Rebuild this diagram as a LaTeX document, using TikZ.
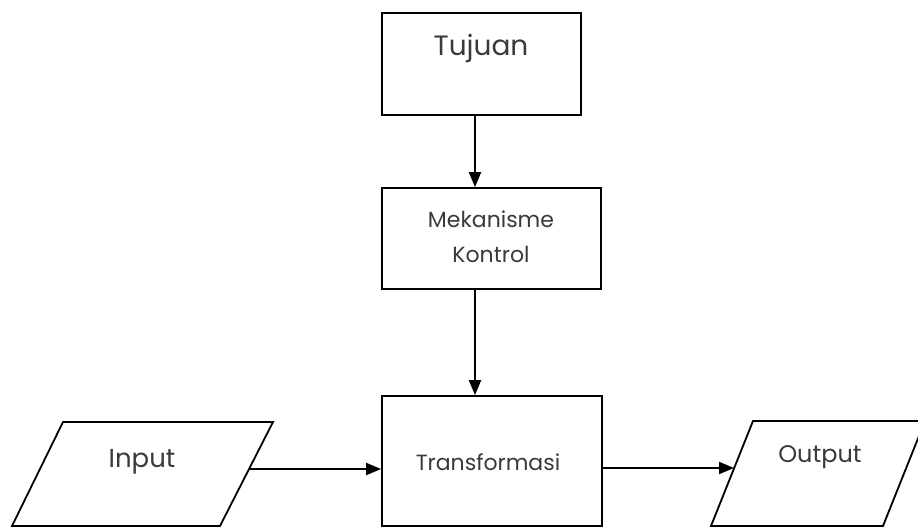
\documentclass[tikz,border=0pt]{standalone}
\usepackage{fontspec}
\setmainfont{Poppins}
\usetikzlibrary{arrows.meta}
\definecolor{txt}{HTML}{3A3A3A}
\tikzset{
  box/.style={draw=black, line width=1.8pt, rectangle, inner sep=0pt, font=\fontsize{22}{35}\selectfont, text=txt, align=center},
  lbl/.style={inner sep=0pt, text=txt, anchor=base},
  arr/.style={line width=2pt, -{Triangle[length=15pt,width=12pt]}},
  shp/.style={draw=black, line width=1.8pt, line join=miter}
}
\begin{document}
\begin{tikzpicture}[x=1pt,y=-1pt]
\useasboundingbox (0,0) rectangle (918,527);
\clip (0,0) rectangle (918,527);
\fill[white] (0,0) rectangle (918,527);
% boxes
\node[box, minimum width=199pt, minimum height=102pt] (tujuan) at (481.5,64) {};
\node[lbl, font=\fontsize{28}{30}\selectfont] (tujuanT) at (481,56) {Tujuan};
\node[box, minimum width=219pt, minimum height=101pt] (mek) at (491.5,238.5) {};
\node[lbl, font=\fontsize{22}{24}\selectfont] (mekA) at (491,227) {Mekanisme};
\node[lbl, font=\fontsize{22}{24}\selectfont] (mekB) at (491,262) {Kontrol};
\node[box, minimum width=220pt, minimum height=130pt] (trans) at (492,461) {};
\node[lbl, font=\fontsize{22}{24}\selectfont] (transT) at (488,470) {Transformasi};
% parallelograms
\coordinate (inBL) at (12,526);
\coordinate (inTL) at (63,422);
\coordinate (inTR) at (273,422);
\coordinate (inBR) at (220,526);
\draw[shp] (inBL) -- (inTL) -- (inTR) -- (inBR) -- cycle;
\node[lbl, font=\fontsize{26}{28}\selectfont] (inT) at (142,467) {Input};
\coordinate (outBL) at (711,526);
\coordinate (outTL) at (753,421);
\coordinate (outTR) at (925,421);
\coordinate (outBR) at (883,526);
\draw[shp] (outBL) -- (outTL) -- (outTR) -- (outBR) -- cycle;
\node[lbl, font=\fontsize{24}{26}\selectfont] (outT) at (820,462) {Output};
% connectors
\coordinate (ax) at (475,0);
\coordinate (inR) at (249,469);
\coordinate (outL) at (734,468);
\draw[arr] (tujuan.south -| ax) -- (mek.north -| ax);
\draw[arr] (mek.south -| ax) -- (trans.north -| ax);
\draw[arr] (inR) -- (inR -| trans.west);
\draw[arr] (outL -| trans.east) -- (outL);
\end{tikzpicture}
\end{document}
